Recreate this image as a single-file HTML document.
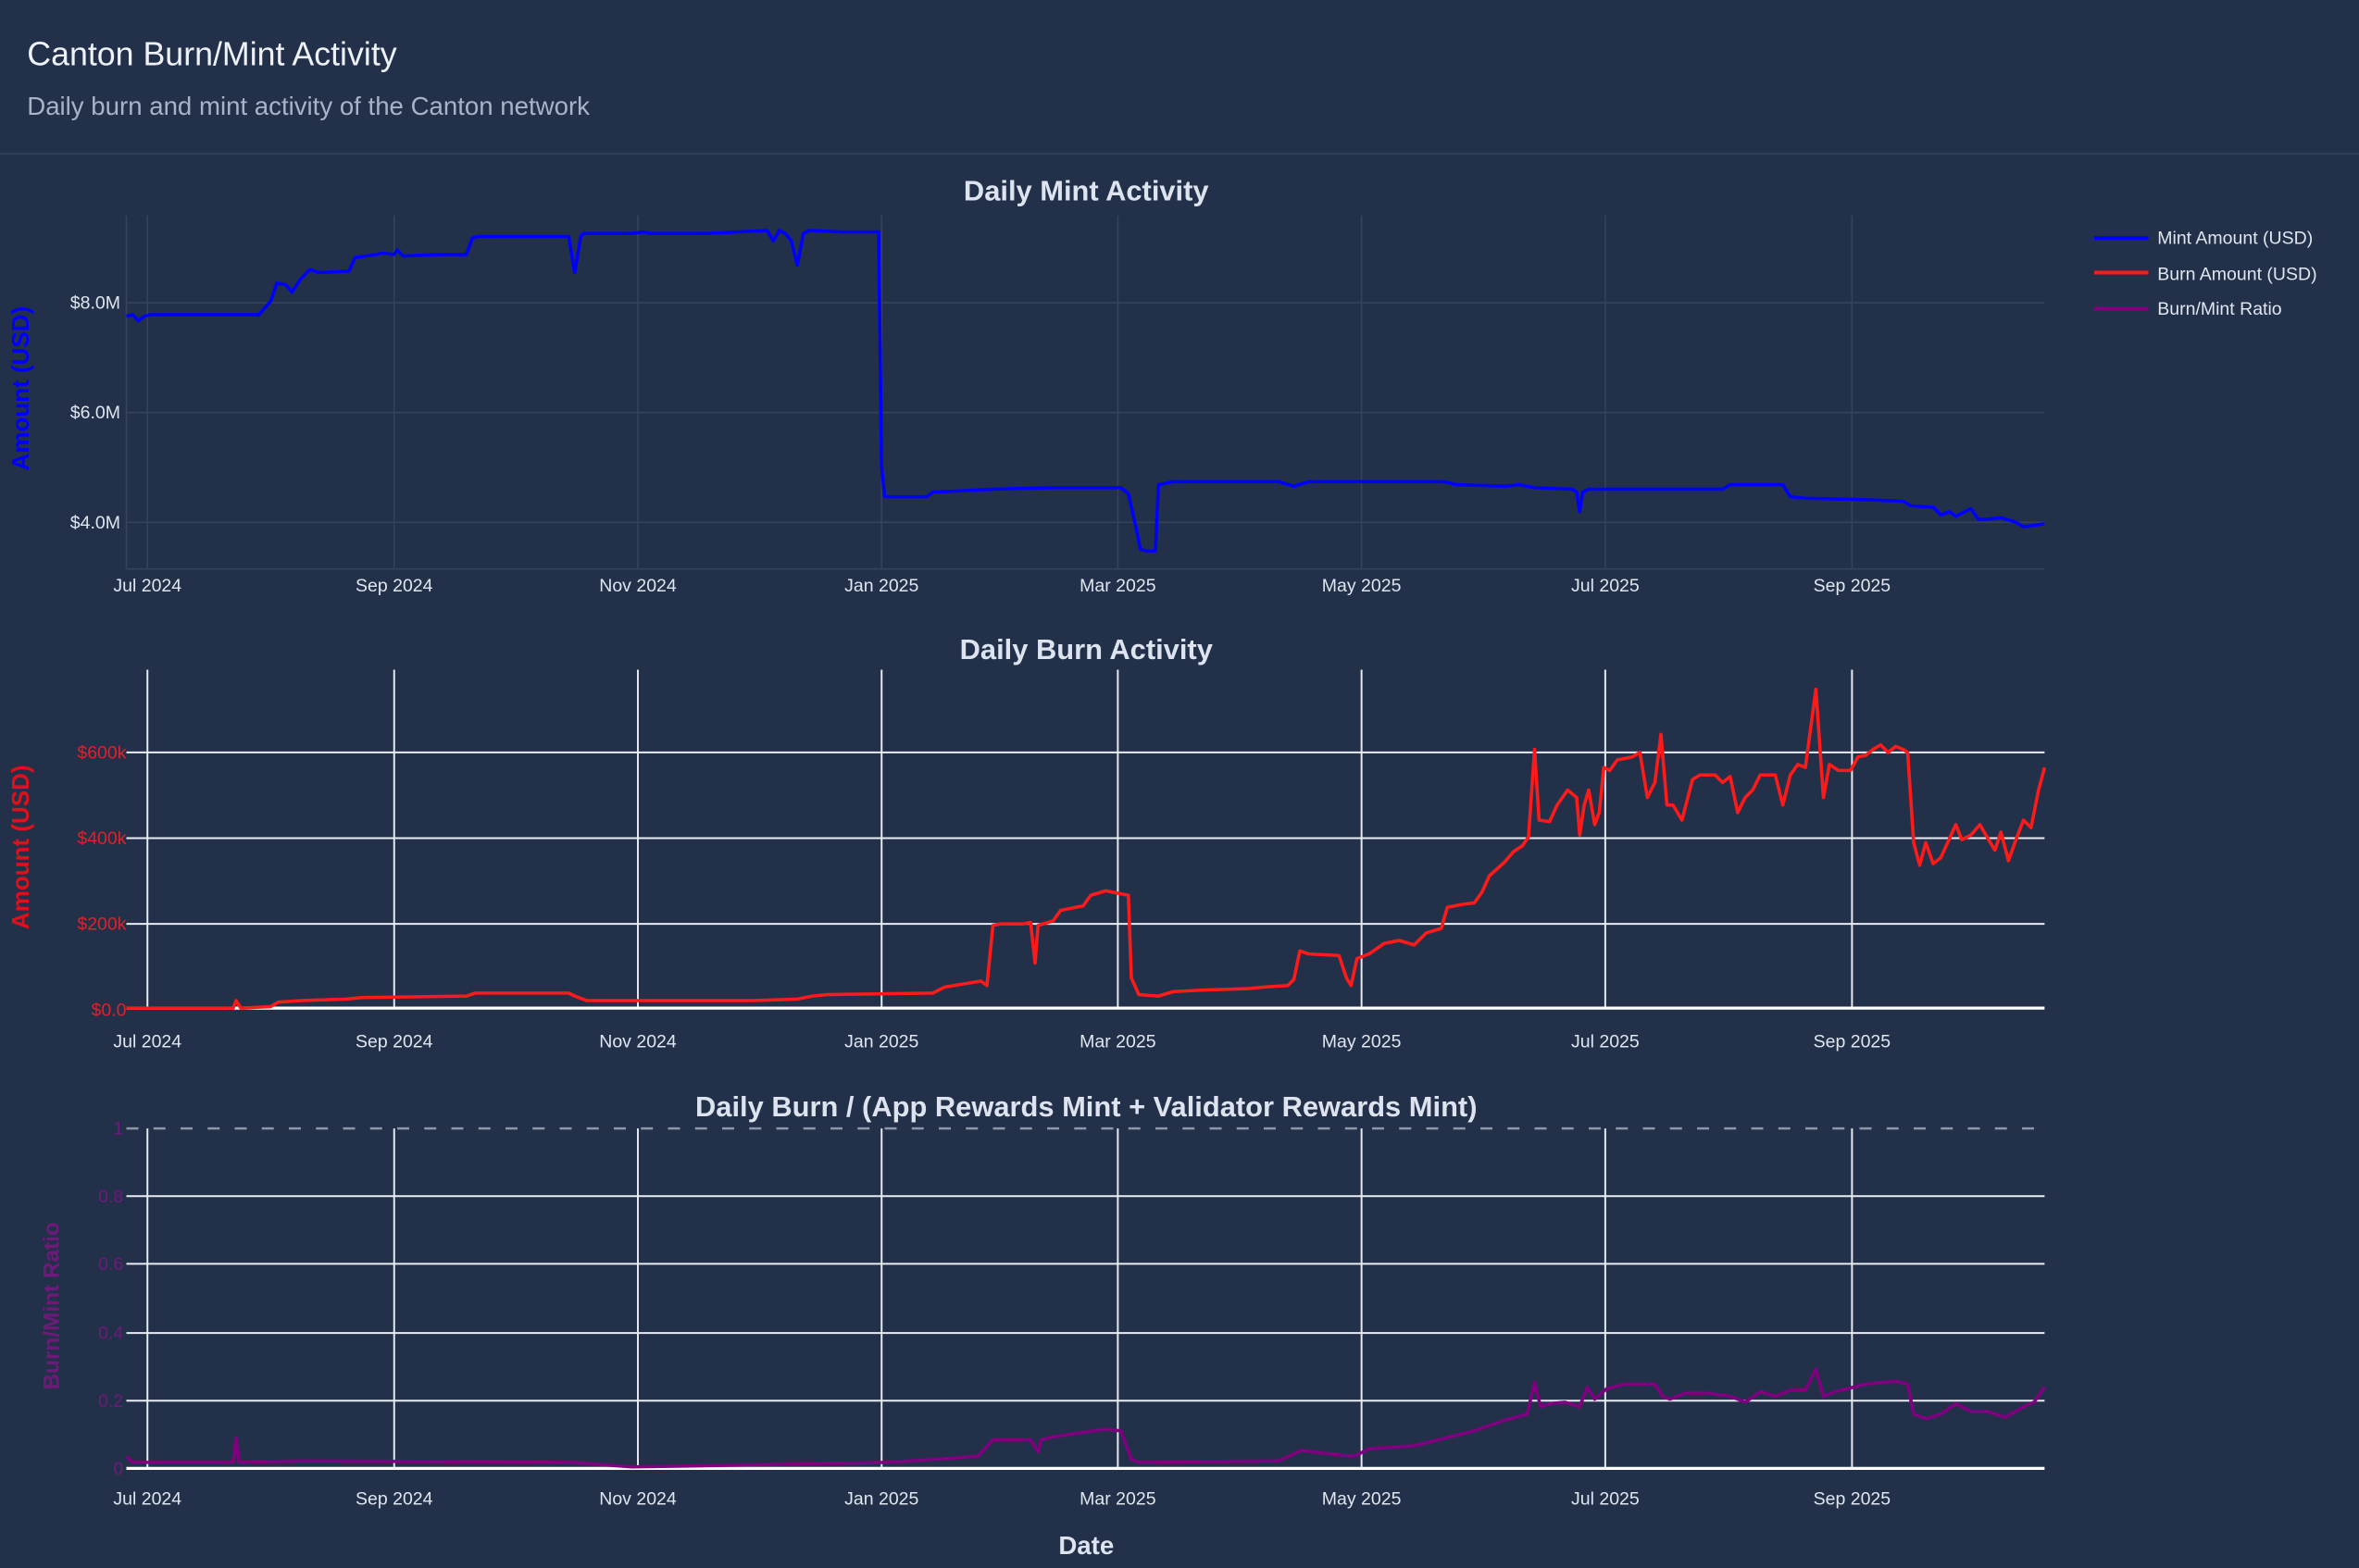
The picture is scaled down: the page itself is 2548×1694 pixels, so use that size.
<!DOCTYPE html>
<html><head><meta charset="utf-8"><style>
html,body{margin:0;padding:0;background:#23304a;}
svg{display:block;}
text{font-family:"Liberation Sans",sans-serif;}
</style></head><body>
<svg width="2548" height="1694" viewBox="0 0 1568 1042" xmlns="http://www.w3.org/2000/svg">
<rect width="1568" height="1042" fill="#23304a"/>
<text x="18" y="43" font-size="22" fill="#eef2f8">Canton Burn/Mint Activity</text>
<text x="18" y="76" font-size="17" fill="#a8b3c7">Daily burn and mint activity of the Canton network</text>
<line x1="0" y1="102" x2="1568" y2="102" stroke="#2f3c56" stroke-width="1.5"/>

<!-- legend -->
<g font-size="12" fill="#dfe6f0">
<line x1="1392" y1="158" x2="1428" y2="158" stroke="#0000ff" stroke-width="2.5"/><text x="1434" y="162">Mint Amount (USD)</text>
<line x1="1392" y1="181" x2="1428" y2="181" stroke="#ff1a1a" stroke-width="2.5"/><text x="1434" y="186">Burn Amount (USD)</text>
<line x1="1392" y1="205" x2="1428" y2="205" stroke="#800080" stroke-width="2.5"/><text x="1434" y="209">Burn/Mint Ratio</text>
</g>

<!-- titles -->
<g font-size="19" font-weight="bold" fill="#dde4ef" text-anchor="middle">
<text x="722" y="133">Daily Mint Activity</text>
<text x="722" y="438">Daily Burn Activity</text>
<text x="722" y="742">Daily Burn / (App Rewards Mint + Validator Rewards Mint)</text>
<text x="722" y="1033" font-size="17">Date</text>
</g>

<!-- plot 1 -->
<g stroke="#34425c" stroke-width="1">
<line x1="84" y1="143" x2="84" y2="378"/>
<line x1="98" y1="143" x2="98" y2="378"/><line x1="262" y1="143" x2="262" y2="378"/><line x1="424" y1="143" x2="424" y2="378"/><line x1="586" y1="143" x2="586" y2="378"/><line x1="743" y1="143" x2="743" y2="378"/><line x1="905" y1="143" x2="905" y2="378"/><line x1="1067" y1="143" x2="1067" y2="378"/><line x1="1231" y1="143" x2="1231" y2="378"/>
<line x1="84" y1="201" x2="1359" y2="201"/><line x1="84" y1="274" x2="1359" y2="274"/><line x1="84" y1="347" x2="1359" y2="347"/><line x1="84" y1="378" x2="1359" y2="378"/>
</g>
<g font-size="12" fill="#dfe6f0" text-anchor="end">
<text x="80" y="205">$8.0M</text><text x="80" y="278">$6.0M</text><text x="80" y="351">$4.0M</text>
</g>
<text transform="translate(19,258) rotate(-90)" font-size="16" font-weight="bold" fill="#0000ff" text-anchor="middle">Amount (USD)</text>
<polyline fill="none" stroke="#0000ff" stroke-width="2.2" stroke-linejoin="round" points="84,210 88,209 92,213 96,210 100,209 172,209 180,200 184,188 190,189 194,194 200,185 206,179 212,181 232,180 236,171 250,169 254,168 262,169 264,166 268,170 290,169 310,169 314,158 318,157 330,157 340,157 378,157 382,181 386,157 388,155 420,155 428,154 432,155 470,155 510,153 514,160 518,153 522,155 526,160 530,176 534,155 538,153 560,154 584,154 586,310 588,330 595,330 616,330 620,327 660,325 700,324 745,324 750,328 755,350 758,365 762,366 768,366 770,322 780,320 800,320 850,320 860,323 870,320 930,320 960,320 968,322 1000,323 1010,322 1020,324 1045,325 1048,327 1050,340 1052,327 1056,325 1100,325 1145,325 1150,322 1185,322 1190,330 1200,331 1240,332 1265,333 1270,336 1285,337 1290,342 1296,340 1300,343 1310,338 1315,345 1320,345 1330,344 1340,347 1345,350 1352,349 1359,348"/>

<!-- x ticks -->
<g font-size="12" fill="#dfe6f0" text-anchor="middle">
<text x="98" y="393">Jul 2024</text><text x="262" y="393">Sep 2024</text><text x="424" y="393">Nov 2024</text><text x="586" y="393">Jan 2025</text><text x="743" y="393">Mar 2025</text><text x="905" y="393">May 2025</text><text x="1067" y="393">Jul 2025</text><text x="1231" y="393">Sep 2025</text>
<text x="98" y="696">Jul 2024</text><text x="262" y="696">Sep 2024</text><text x="424" y="696">Nov 2024</text><text x="586" y="696">Jan 2025</text><text x="743" y="696">Mar 2025</text><text x="905" y="696">May 2025</text><text x="1067" y="696">Jul 2025</text><text x="1231" y="696">Sep 2025</text>
<text x="98" y="1000">Jul 2024</text><text x="262" y="1000">Sep 2024</text><text x="424" y="1000">Nov 2024</text><text x="586" y="1000">Jan 2025</text><text x="743" y="1000">Mar 2025</text><text x="905" y="1000">May 2025</text><text x="1067" y="1000">Jul 2025</text><text x="1231" y="1000">Sep 2025</text>
</g>

<!-- plot 2 -->
<g stroke="#e8edf5" stroke-width="1.2">
<line x1="98" y1="445" x2="98" y2="670"/><line x1="262" y1="445" x2="262" y2="670"/><line x1="424" y1="445" x2="424" y2="670"/><line x1="586" y1="445" x2="586" y2="670"/><line x1="743" y1="445" x2="743" y2="670"/><line x1="905" y1="445" x2="905" y2="670"/><line x1="1067" y1="445" x2="1067" y2="670"/><line x1="1231" y1="445" x2="1231" y2="670"/>
<line x1="84" y1="500" x2="1359" y2="500"/><line x1="84" y1="557" x2="1359" y2="557"/><line x1="84" y1="614" x2="1359" y2="614"/>
</g>
<line x1="84" y1="670" x2="1359" y2="670" stroke="#ffffff" stroke-width="2"/>
<g font-size="12" fill="#e0202a" text-anchor="end">
<text x="84" y="504">$600k</text><text x="84" y="561">$400k</text><text x="84" y="618">$200k</text><text x="84" y="675">$0.0</text>
</g>
<text transform="translate(19,563) rotate(-90)" font-size="16" font-weight="bold" fill="#e0101a" text-anchor="middle">Amount (USD)</text>
<polyline fill="none" stroke="#ff1a1a" stroke-width="2.2" stroke-linejoin="round" points="84,670 155,670 157,665 160,670 180,669 185,666 200,665 230,664 240,663 310,662 316,660 378,660 382,662 390,665 430,665 500,665 530,664 540,662 550,661 620,660 628,656 640,654 652,652 656,655 660,615 665,614 680,614 685,613 688,640 690,615 700,612 705,605 720,602 725,595 735,592 745,594 750,595 752,650 757,661 770,662 780,659 800,658 830,657 840,656 856,655 860,651 864,632 870,634 890,635 895,650 898,655 902,637 910,634 920,627 930,625 940,628 948,620 958,617 962,603 972,601 980,600 985,593 990,582 1000,573 1006,566 1012,562 1016,556 1020,498 1023,545 1030,546 1035,535 1042,525 1048,530 1050,555 1053,535 1056,525 1060,548 1063,540 1066,510 1070,512 1075,505 1085,503 1090,500 1095,530 1100,520 1104,488 1108,535 1112,535 1118,545 1125,518 1130,515 1140,515 1145,520 1150,516 1155,540 1160,530 1165,525 1170,515 1180,515 1185,535 1190,515 1195,508 1200,510 1207,458 1212,530 1216,508 1222,512 1230,512 1235,503 1240,502 1245,498 1250,495 1255,500 1260,496 1265,498 1268,500 1272,560 1276,575 1280,560 1285,574 1290,570 1300,548 1304,558 1310,555 1316,548 1320,555 1326,565 1330,553 1335,572 1340,558 1345,545 1350,550 1355,525 1359,510"/>

<!-- plot 3 -->
<g stroke="#e8edf5" stroke-width="1.2">
<line x1="98" y1="750" x2="98" y2="976"/><line x1="262" y1="750" x2="262" y2="976"/><line x1="424" y1="750" x2="424" y2="976"/><line x1="586" y1="750" x2="586" y2="976"/><line x1="743" y1="750" x2="743" y2="976"/><line x1="905" y1="750" x2="905" y2="976"/><line x1="1067" y1="750" x2="1067" y2="976"/><line x1="1231" y1="750" x2="1231" y2="976"/>
<line x1="84" y1="795" x2="1359" y2="795"/><line x1="84" y1="840" x2="1359" y2="840"/><line x1="84" y1="886" x2="1359" y2="886"/><line x1="84" y1="931" x2="1359" y2="931"/>
</g>
<line x1="84" y1="976" x2="1359" y2="976" stroke="#ffffff" stroke-width="2"/>
<line x1="84" y1="750" x2="1359" y2="750" stroke="#8c96a6" stroke-width="1.5" stroke-dasharray="8,10"/>
<g font-size="12" fill="#6f1a7a" text-anchor="end">
<text x="82" y="754">1</text><text x="82" y="799">0.8</text><text x="82" y="844">0.6</text><text x="82" y="890">0.4</text><text x="82" y="935">0.2</text><text x="82" y="980">0</text>
</g>
<text transform="translate(39,868) rotate(-90)" font-size="15" font-weight="bold" fill="#6f1a7a" text-anchor="middle">Burn/Mint Ratio</text>
<polyline fill="none" stroke="#800080" stroke-width="2.2" stroke-linejoin="round" points="84,968 88,972 155,972 157,956 159,972 200,971 380,972 420,975 540,973 590,972 650,968 660,957 685,957 690,965 692,957 700,955 720,952 735,950 745,951 752,970 757,972 850,971 865,964 880,966 900,968 910,963 940,961 960,956 980,951 1000,944 1015,940 1020,919 1024,935 1030,933 1040,932 1050,935 1055,922 1060,930 1068,923 1080,920 1100,920 1105,928 1110,930 1120,926 1135,926 1150,928 1160,932 1170,925 1180,928 1190,924 1200,924 1207,910 1212,928 1220,925 1240,920 1260,918 1268,920 1272,940 1280,943 1290,940 1300,933 1310,938 1320,938 1333,942 1345,935 1352,932 1359,922"/>
</svg>
</body></html>
